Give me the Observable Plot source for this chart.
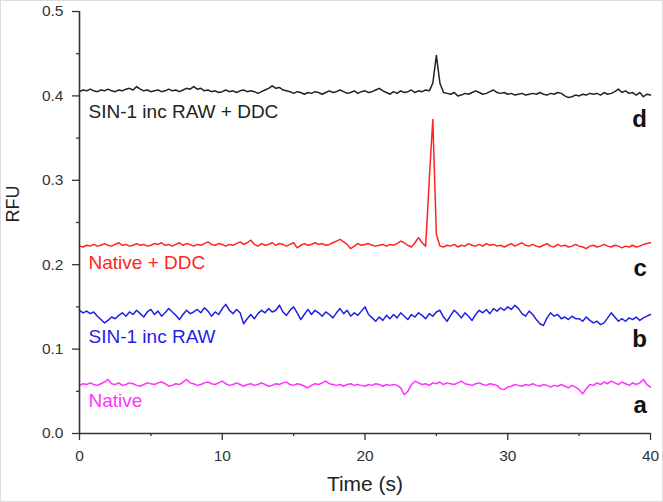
<!DOCTYPE html>
<html>
<head>
<meta charset="utf-8">
<script src="https://cdn.jsdelivr.net/npm/d3@7"></script>
<script src="https://cdn.jsdelivr.net/npm/@observablehq/plot@0.6"></script>
<style>
  html, body { margin: 0; padding: 0; background: #fff; }
  #chart { width: 663px; height: 502px; box-sizing: border-box; border: 1px solid #ddd; overflow: hidden; }
  svg { font-family: "Liberation Sans", Arial, sans-serif; }
</style>
</head>
<body>
<div id="chart"></div>
<script>
// Sampling grid, seconds (0 to 40 every 0.25 s)
const time = d3.range(0, 40.001, 0.25);

// d: SIN-1 inc RAW + DDC (black)
const traceD = [
  .405,.407,.406,.408, .406,.405,.407,.406, .408,.406,.405,.407, .406,.408,.409,.407,
  .411,.408,.406,.407, .405,.406,.407,.405, .406,.408,.406,.407, .405,.407,.409,.408,
  .411,.408,.409,.406, .407,.405,.406,.404, .405,.407,.405,.406, .404,.406,.407,.405,
  .406,.405,.403,.405, .407,.409,.412,.409, .410,.407,.406,.405, .403,.405,.404,.402,
  .404,.403,.405,.404, .402,.404,.406,.404, .405,.407,.405,.403, .404,.406,.403,.405,
  .406,.404,.405,.407, .409,.406,.404,.402, .405,.403,.406,.404, .405,.407,.404,.406,
  .405,.407,.406,.415, .448,.415,.404,.403, .402,.404,.400,.401, .403,.402,.404,.406,
  .404,.402,.403,.405, .407,.404,.403,.404, .402,.403,.401,.402, .403,.401,.402,.403,
  .402,.404,.402,.401, .403,.402,.404,.403, .400,.398,.399,.401, .400,.402,.401,.403,
  .402,.403,.401,.404, .402,.403,.405,.408, .404,.406,.403,.404, .401,.404,.399,.402,
  .401
];

// c: Native + DDC (red)
const traceC = [
  .222,.221,.223,.222, .224,.222,.223,.225, .223,.222,.224,.226, .223,.224,.222,.223,
  .225,.223,.224,.222, .223,.225,.224,.226, .223,.224,.222,.224, .226,.223,.225,.224,
  .222,.224,.223,.225, .227,.224,.223,.225, .224,.222,.224,.223, .225,.227,.224,.226,
  .229,.224,.222,.225, .223,.224,.226,.223, .225,.224,.222,.224, .226,.220,.223,.225,
  .223,.224,.226,.224, .225,.223,.224,.226, .228,.230,.227,.224, .219,.222,.225,.223,
  .224,.225,.223,.222, .223,.224,.222,.224, .223,.225,.228,.226, .223,.221,.226,.232,
  .226,.222,.300,.372, .236,.222,.221,.223, .222,.224,.221,.223, .222,.225,.223,.222,
  .224,.222,.225,.223, .224,.222,.223,.221, .223,.225,.222,.224, .226,.223,.222,.224,
  .222,.221,.223,.225, .222,.221,.224,.222, .223,.221,.222,.224, .222,.221,.219,.222,
  .223,.221,.222,.224, .222,.221,.223,.222, .220,.222,.221,.223, .221,.222,.224,.225,
  .226
];

// b: SIN-1 inc RAW (blue)
const traceB = [
  .146,.143,.145,.142, .144,.139,.135,.131, .134,.138,.136,.140, .143,.139,.144,.141,
  .146,.142,.138,.144, .147,.141,.145,.139, .143,.148,.144,.140, .135,.141,.146,.142,
  .144,.147,.143,.149, .145,.139,.144,.141, .148,.153,.146,.142, .147,.143,.130,.136,
  .141,.136,.142,.146, .143,.148,.144,.146, .152,.144,.140,.146, .150,.143,.135,.141,
  .147,.141,.146,.143, .139,.144,.141,.137, .143,.148,.142,.146, .139,.143,.140,.145,
  .150,.141,.137,.133, .138,.134,.140,.136, .141,.137,.143,.139, .135,.141,.138,.143,
  .140,.136,.142,.139, .144,.146,.138,.133, .140,.146,.142,.137, .143,.139,.134,.141,
  .146,.143,.147,.142, .148,.145,.149,.146, .150,.147,.152,.148, .142,.139,.145,.141,
  .135,.130,.128,.137, .143,.139,.141,.136, .138,.135,.139,.136, .136,.133,.138,.134,
  .131,.133,.129,.131, .137,.143,.138,.133, .136,.133,.137,.135, .138,.134,.137,.139,
  .141
];

// a: Native (magenta)
const traceA = [
  .057,.059,.058,.060, .058,.057,.059,.061, .064,.059,.058,.060, .057,.058,.060,.059,
  .057,.056,.058,.060, .059,.058,.060,.061, .059,.056,.057,.059, .058,.061,.064,.060,
  .059,.057,.058,.060, .061,.059,.058,.060, .062,.059,.057,.058, .060,.058,.056,.058,
  .059,.057,.058,.060, .058,.056,.057,.059, .058,.060,.061,.058, .057,.059,.058,.056,
  .054,.057,.059,.058, .060,.062,.059,.058, .057,.058,.056,.058, .059,.057,.058,.057,
  .056,.058,.057,.059, .058,.056,.058,.057, .058,.057,.054,.046, .050,.058,.062,.060,
  .058,.059,.057,.060, .059,.061,.058,.060, .059,.058,.060,.062, .059,.058,.057,.059,
  .060,.058,.057,.059, .058,.057,.053,.052, .055,.056,.058,.057, .056,.058,.057,.059,
  .057,.056,.058,.057, .055,.057,.056,.058, .056,.054,.057,.055, .052,.047,.053,.058,
  .057,.060,.058,.061, .059,.062,.060,.058, .061,.059,.057,.060, .058,.060,.064,.058,
  .055
];

const seriesColors = ["#222222", "#ff2424", "#1f1fe6", "#ff33ff"];
const seriesNames = ["SIN-1 inc RAW + DDC", "Native + DDC", "SIN-1 inc RAW", "Native"];
const seriesLetters = ["d", "c", "b", "a"];
// label baselines in data units (RFU)
const nameY = [0.374, 0.195, 0.107, 0.031];
const letterY = [0.363, 0.187, 0.102, 0.024];

const yMajor = [0, 0.1, 0.2, 0.3, 0.4, 0.5];
const yMinor = [0.05, 0.15, 0.25, 0.35, 0.45];
const xMajor = [0, 10, 20, 30, 40];
const xMinor = [5, 15, 25, 35];

const traces = [traceD, traceC, traceB, traceA];

const chart = Plot.plot({
  width: 661,
  height: 500,
  marginLeft: 78,
  marginRight: 12,
  marginTop: 10,
  marginBottom: 68,
  style: { fontFamily: "'Liberation Sans', Arial, sans-serif", background: "#fff" },
  x: { domain: [0, 40] },
  y: { domain: [0, 0.5] },
  marks: [
    ...traces.map((tr, k) => Plot.lineY(tr, {
      x: (d, i) => time[i], y: d => d,
      stroke: seriesColors[k], strokeWidth: 1.5
    })),
    Plot.axisY({ ticks: yMajor, tickFormat: d3.format(".1f"), tickSize: 7, tickPadding: 9,
      fontSize: 15.5, color: "#333", label: null, stroke: "#333", strokeWidth: 1.3 }),
    Plot.axisY({ ticks: yMinor, tickSize: 3, tickFormat: () => "", label: null, stroke: "#333", strokeWidth: 1.3 }),
    Plot.axisX({ ticks: xMajor, tickFormat: d3.format("d"), tickSize: 7, tickPadding: 9,
      fontSize: 15.5, color: "#333", label: null, stroke: "#333", strokeWidth: 1.3 }),
    Plot.axisX({ ticks: xMinor, tickSize: 3, tickFormat: () => "", label: null, stroke: "#333", strokeWidth: 1.3 }),
    Plot.ruleX([0], { stroke: "#333", strokeWidth: 1.6 }),
    Plot.ruleY([0], { stroke: "#333", strokeWidth: 1.6 }),
    Plot.text(seriesNames, {
      x: 0.63, y: (d, i) => nameY[i], text: d => d, textAnchor: "start", lineAnchor: "bottom",
      fill: (d, i) => seriesColors[i], fontSize: 19
    }),
    Plot.text(seriesLetters, {
      x: 39.75, y: (d, i) => letterY[i], text: d => d, textAnchor: "end", lineAnchor: "bottom",
      fill: "#111", fontSize: 24, fontWeight: "bold"
    }),
    Plot.text(["RFU"], {
      frameAnchor: "left", dx: -66, text: d => d, rotate: -90,
      fontSize: 18, fill: "#222"
    }),
    Plot.text(["Time (s)"], {
      frameAnchor: "bottom", dy: 57, text: d => d,
      fontSize: 21, fill: "#222"
    })
  ]
});
document.getElementById("chart").appendChild(chart);
</script>
</body>
</html>
